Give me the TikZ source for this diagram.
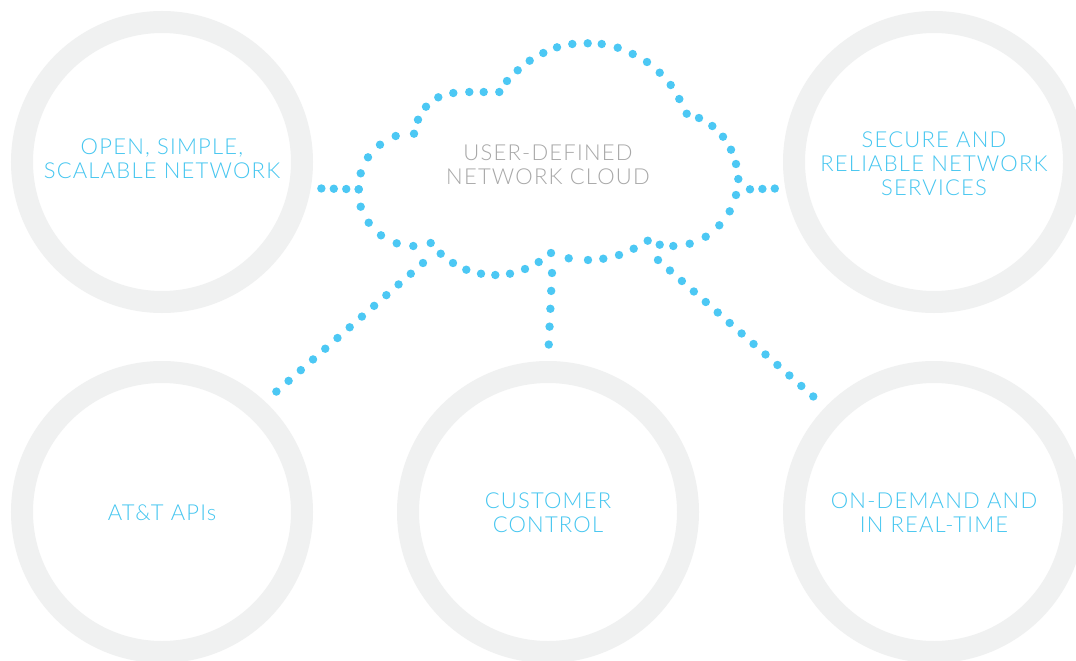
\documentclass[tikz,border=0pt]{standalone}
\usepackage{fontspec}
\setmainfont{Lato}[UprightFont={* Light},LetterSpace=5.5]
\definecolor{dotblue}{HTML}{4CC8F4}
\definecolor{txtblue}{HTML}{45C6F0}
\definecolor{ringgray}{HTML}{F0F1F1}
\definecolor{cloudgray}{HTML}{A8A8A8}
\begin{document}
\begin{tikzpicture}[x=1pt,y=-1pt,
  ring/.style={circle,draw=ringgray,line width=22pt,minimum size=280pt,inner sep=0pt,outer sep=11pt},
  lbl/.style={text=txtblue,font=\fontsize{22}{24}\selectfont,align=center,inner sep=0pt},
  cloudlbl/.style={text=cloudgray,font=\fontsize{22}{24}\selectfont,align=center,inner sep=0pt},
  dotline/.style={draw=dotblue,line width=8.4pt,line cap=round,dash pattern=on 0pt off #1pt},
  clouddot/.style={fill=dotblue}]
\fill[white] (0,0) rectangle (1076,661);
\useasboundingbox (0,0) rectangle (1076,661);
% rings
\node[ring] (tl) at (162,162) {};
\node[ring] (tr) at (934,162) {};
\node[ring] (bl) at (162,512) {};
\node[ring] (bc) at (548,512) {};
\node[ring] (br) at (934,512) {};
% labels
\node[lbl] (tlt) at (162,159) {OPEN, SIMPLE,\\SCALABLE NETWORK};
\node[lbl] (trt) at (934,164) {SECURE AND\\RELIABLE NETWORK\\SERVICES};
\node[lbl] (blt) at (162,513) {AT\&T APIs};
\node[lbl] (bct) at (548,513) {CUSTOMER\\CONTROL};
\node[lbl] (brt) at (934,513) {ON-DEMAND AND\\IN REAL-TIME};
\node[cloudlbl] (cloudt) at (548,165) {USER-DEFINED\\NETWORK CLOUD};
% cloud outline of dots
\foreach \x/\y in {358.7/189.3,360.7/173.3,368/157.3,380/144.7,395.7/136,414/133.7,
  418/119.7,426/106.7,438.3/97.3,453.3/93,469.3/92,483.7/92,499.3/92,507/81,
  517.7/70.3,529.7/60.7,543.3/53,557/47.3,572.3/44,587.7/43.3,601.7/44,617.7/47.7,
  632.7/54,647/62,659.7/72.7,670.7/85,679.3/99,686.7/113.7,699/118,712.3/126,
  723/136.7,731/149.7,736/164,738.3/179,736/195,729.7/211.3,719.3/225.3,705.7/236.7,
  689.7/243.7,673.3/246,659.7/244.7,647.7/240.7,633.7/248.7,619/255,603.3/258.7,
  588/260,568.7/258.3,551/253,538.7/262,525/269,510/273.7,495.3/275,481/273.7,
  466.3/269.7,453/263,440.7/253.7,430.7/243,413.3/246,396.7/243.3,381/235.3,
  368.7/222.7,360.7/206.7}
  \fill[clouddot] (\x,\y) circle (4.2pt);
% connector start points on the cloud
\coordinate (cw) at (358.7,189.3);
\coordinate (ce) at (750,189.3);
\coordinate (csw) at (423,263);
\coordinate (cs) at (552,273);
\coordinate (cse) at (658,260);
% connectors
\draw[dotline=12.45, shorten >=10pt] (cw) -- (tl.-10.3);
\draw[dotline=12.4, shorten >=10pt] (ce) -- (tr.190.3);
\draw[dotline=16.25, shorten >=13.7pt] (csw) -- (bl.47);
\draw[dotline=17.9, shorten >=15.8pt] (cs) -- (bc.north);
\draw[dotline=15.9, shorten >=15pt] (cse) -- (br.136.7);
\end{tikzpicture}
\end{document}
